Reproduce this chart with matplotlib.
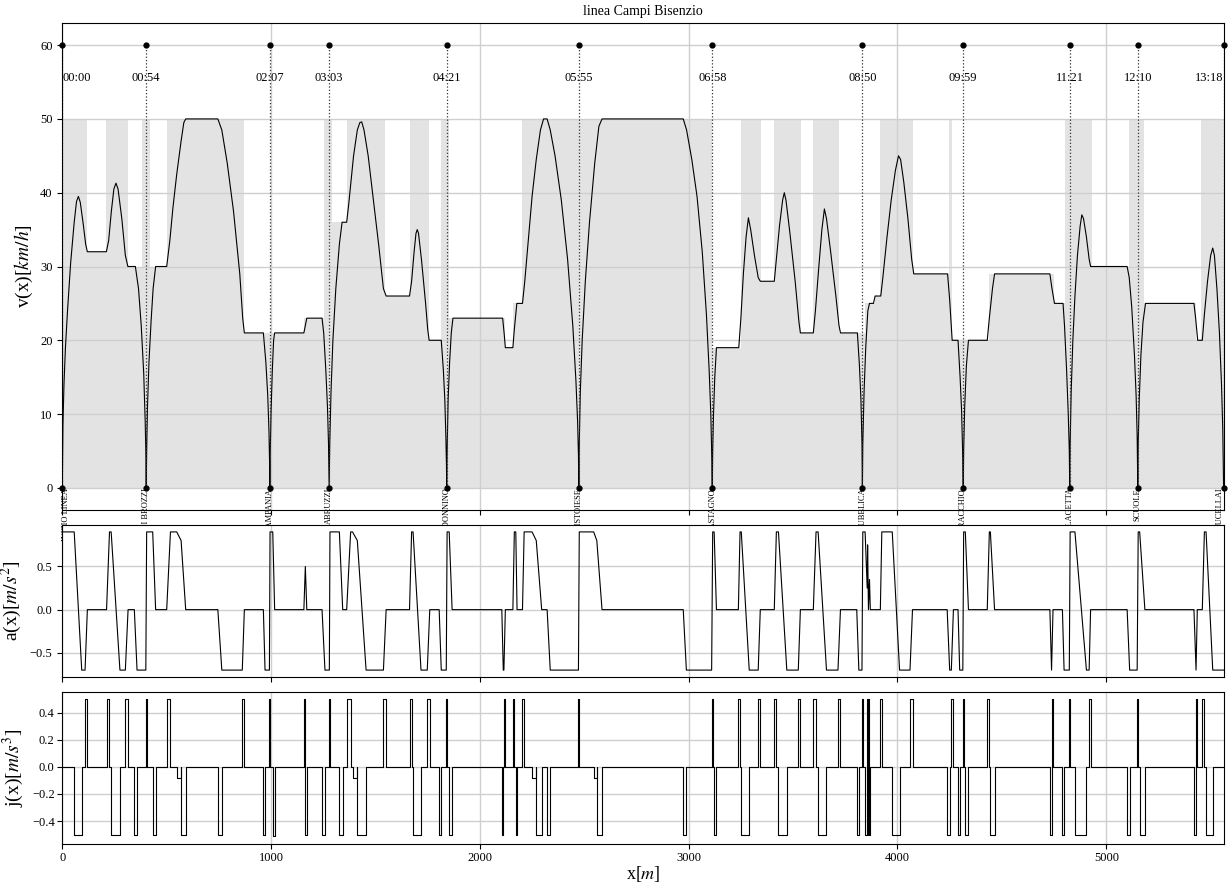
import numpy as np
import matplotlib
matplotlib.use("Agg")
import matplotlib.pyplot as plt

plt.rcParams['font.family'] = ['Liberation Serif', 'DejaVu Serif']
plt.rcParams['mathtext.fontset'] = 'stix'

# stations: position [m], departure time, name
st_x = [0, 402, 994, 1278, 1841, 2474, 3113, 3832, 4315, 4825, 5151, 5562]
st_time = ['00:00', '00:54', '02:07', '03:03', '04:21', '05:55', '06:58',
           '08:50', '09:59', '11:21', '12:10', '13:18']
st_name = ['INIZIO LINEA', 'PIAZZA DI BROZZI', 'CAMPANIA', 'ABRUZZI', 'SAN DONNINO',
           'PISTOIESE', 'CASTAGNO', 'REPUBBLICA', 'TORRACCHIO', 'VIA LAGETTA',
           'SCUOLE', 'RUCELLAI']

# speed limit profile (step, value holds until next breakpoint)
lim_x = [0, 120, 211, 314, 380, 420, 502, 870, 1159, 1254, 1290, 1363, 1546, 1663,
         1757, 1814, 1852, 2118, 2158, 2204, 3113, 3249, 3347, 3410, 3536, 3596,
         3719, 3845, 3890, 3918, 4075, 4248, 4261, 4436, 4752, 4800, 4933, 5111,
         5183, 5430, 5456, 5562]
lim_v = [50, 32, 50, 30, 50, 30, 50, 21, 23, 50, 36, 50, 26, 50,
         20, 50, 23, 19, 25, 50, 19, 50, 28, 50, 21, 50,
         21, 25, 26, 50, 29, 50, 20, 29, 25, 50, 30, 50,
         25, 20, 50, 50]

# speed profile v(x) [km/h]
v_x = [0, 3, 8, 15, 25, 40, 57, 68, 77, 86, 100, 112, 120, 211, 222, 235, 247, 257, 267,
       285, 302, 314, 350, 365, 378, 390, 397, 400, 402,
       404, 408, 415, 425, 435, 447, 500, 515, 530, 548, 569, 582, 591, 745, 764, 790,
       820, 850, 864, 872, 963, 975, 984, 990, 993, 994,
       996, 1000, 1006, 1012, 1017, 1157, 1164, 1171, 1244, 1252, 1262, 1270, 1275, 1278,
       1281, 1287, 1296, 1310, 1327, 1340, 1362, 1372, 1381, 1395, 1413, 1425, 1434, 1445,
       1465, 1490, 1515, 1538, 1551, 1663, 1673, 1685, 1694, 1700, 1706, 1720, 1740, 1750,
       1757, 1815, 1825, 1832, 1837, 1840, 1841,
       1843, 1848, 1855, 1863, 1871, 2109, 2116, 2122, 2158, 2165, 2177, 2204, 2215, 2230,
       2250, 2270, 2290, 2305, 2322, 2337, 2360, 2390, 2420, 2445, 2460, 2468, 2472, 2474,
       2476, 2481, 2490, 2505, 2525, 2550, 2570, 2585, 2974, 2990, 3015, 3040, 3065, 3085,
       3098, 3106, 3110, 3113,
       3115, 3119, 3125, 3133, 3240, 3250, 3262, 3275, 3286, 3297, 3315, 3333, 3343, 3410,
       3420, 3435, 3450, 3458, 3466, 3485, 3510, 3528, 3535, 3597, 3607, 3622, 3638, 3650,
       3660, 3680, 3705, 3720, 3727, 3808, 3818, 3825, 3830, 3832,
       3834, 3840, 3848, 3858, 3866, 3885, 3893, 3920, 3930, 3950, 3970, 3990, 4005, 4015,
       4030, 4050, 4068, 4078, 4240, 4250, 4262, 4290, 4300, 4307, 4312, 4315,
       4317, 4322, 4330, 4340, 4430, 4440, 4455, 4465, 4730, 4740, 4752, 4793, 4800, 4810,
       4818, 4823, 4825,
       4827, 4832, 4840, 4850, 4862, 4875, 4883, 4891, 4905, 4918, 4925, 5100, 5110, 5122,
       5135, 5143, 5148, 5151,
       5153, 5158, 5166, 5176, 5188, 5420, 5428, 5438, 5460, 5470, 5485, 5500, 5510, 5518,
       5530, 5542, 5552, 5558, 5562]
v_v = [0, 8.5, 14, 19, 24, 30.5, 36, 38.8, 39.5, 38.7, 35.8, 33, 32, 32, 33.5, 37.5, 40.5, 41.3, 40.5,
       36.5, 31.5, 30, 30, 27, 22, 15.5, 9, 5, 0,
       5, 11, 17, 22.5, 27, 30, 30, 33.5, 38, 42.5, 47, 49.5, 50, 50, 48.5, 44,
       37.5, 29, 23, 21, 21, 17, 12.5, 7.5, 3, 0,
       5, 10.5, 16, 20, 21, 21, 22, 23, 23, 21, 16, 11, 6, 0,
       6, 13, 20, 27, 33, 36, 36, 38.5, 41, 45, 48.5, 49.5, 49.6, 48.5,
       45, 39, 33, 27, 26, 26, 28, 32, 34.5, 35, 34.5, 31, 25, 21.5,
       20, 20, 16, 12, 7, 3, 0,
       5, 12, 17, 21, 23, 23, 21, 19, 19, 21.5, 25, 25, 28, 33,
       39.5, 44.5, 48.5, 50, 50, 48.5, 45, 39, 31, 22, 14.5, 9, 4.5, 0,
       6, 13, 20, 28, 36, 44, 49, 50, 50, 48.5, 44.5, 39.5, 32, 23.5,
       16, 10, 5, 0,
       5, 10, 15, 19, 19, 23, 29, 34, 36.6, 35, 31.5, 28.5, 28, 28,
       31, 35.5, 39, 40, 39, 34.5, 28, 22.5, 21, 21, 24, 29.5, 35, 37.8,
       36.5, 32, 26, 22, 21, 21, 16.5, 12, 6, 0,
       6, 13, 19, 24, 25, 25, 26, 26, 28.5, 34, 39, 43, 45, 44.5,
       41.5, 36.5, 31, 29, 29, 25.5, 20, 20, 15, 10.5, 5, 0,
       5, 11, 16.5, 20, 20, 23, 27, 29, 29, 27, 25, 25, 22, 16,
       10, 5, 0,
       6, 13, 20, 26, 31.5, 35.5, 37, 36.5, 34, 31, 30, 30, 28.5, 24.5,
       18, 12.5, 7, 0,
       6, 12, 18, 22.5, 25, 25, 23, 20, 20, 23.5, 28, 31.5, 32.5, 31.5,
       27, 21, 14, 8, 0]

# acceleration a(x) [m/s^2]
a_x = [0, 57, 93, 109, 120, 212, 226, 234, 276, 302, 315, 345, 358, 400, 404, 433, 447,
       500, 518, 548, 569, 591, 745, 764, 862, 872, 963, 971, 992, 995, 1008, 1017,
       1157, 1164, 1171, 1244, 1258, 1279, 1282, 1327, 1343, 1362, 1381, 1390, 1413,
       1455, 1538, 1551, 1663, 1673, 1680, 1718, 1748, 1760, 1805, 1815, 1839, 1843,
       1853, 1867, 2105, 2112, 2115, 2122, 2158, 2165, 2172, 2178, 2204, 2212, 2250,
       2270, 2296, 2322, 2337, 2472, 2476, 2545, 2560, 2585, 2974, 2989, 3110, 3115,
       3122, 3133, 3238, 3246, 3252, 3290, 3333, 3343, 3410, 3420, 3430, 3470, 3525,
       3535, 3597, 3610, 3620, 3660, 3715, 3727, 3805, 3815, 3830, 3834, 3845, 3855,
       3857, 3861, 3866, 3870, 3918, 3925, 3975, 4010, 4060, 4072, 4238, 4250, 4258,
       4268, 4290, 4298, 4313, 4317, 4325, 4340, 4430, 4440, 4445, 4465, 4730, 4738,
       4745, 4790, 4798, 4823, 4827, 4850, 4905, 4918, 4925, 5100, 5112, 5148, 5153,
       5160, 5185, 5420, 5430, 5436, 5460, 5470, 5478, 5510, 5562]
a_v = [0.9, 0.9, -0.7, -0.7, 0, 0, 0.9, 0.9, -0.7, -0.7, 0, 0, -0.7, -0.7, 0.9, 0.9, 0,
       0, 0.9, 0.9, 0.8, 0, 0, -0.7, -0.7, 0, 0, -0.7, -0.7, 0.9, 0.9, 0,
       0, 0.5, 0, 0, -0.7, -0.7, 0.9, 0.9, 0, 0, 0.9, 0.9, 0.8,
       -0.7, -0.7, 0, 0, 0.9, 0.9, -0.7, -0.7, 0, 0, -0.7, -0.7, 0.9,
       0.9, 0, 0, -0.7, -0.7, 0, 0, 0.9, 0.9, 0, 0, 0.9, 0.9,
       0.8, 0, 0, -0.7, -0.7, 0.9, 0.9, 0.8, 0, 0, -0.7, -0.7, 0.9,
       0.9, 0, 0, 0.9, 0.9, -0.7, -0.7, 0, 0, 0.9, 0.9, -0.7, -0.7,
       0, 0, 0.9, 0.9, -0.7, -0.7, 0, 0, -0.7, -0.7, 0.9, 0.9, 0.25,
       0.75, 0, 0.35, 0, 0, 0.9, 0.9, -0.7, -0.7, 0, 0, -0.7, -0.7,
       0, 0, -0.7, -0.7, 0.9, 0.9, 0, 0, 0.9, 0.9, 0, 0, -0.7,
       0, 0, -0.7, -0.7, 0.9, 0.9, -0.7, -0.7, 0, 0, -0.7, -0.7, 0.9,
       0.9, 0, 0, -0.7, 0, 0, 0.9, 0.9, -0.7, -0.7]

# jerk pulses: start [m], end [m], value [m/s^3]
j_start = [57, 109, 212, 234, 302, 345, 400, 433, 500, 548, 569, 745, 862, 963, 992, 1008,
           1157, 1164, 1244, 1279, 1327, 1362, 1390, 1413, 1538, 1663, 1680, 1748, 1805,
           1839, 1853, 2105, 2115, 2158, 2172, 2204, 2250, 2270, 2322, 2472, 2545, 2560,
           2974, 3110, 3122, 3238, 3252, 3333, 3410, 3430, 3525, 3597, 3620, 3715, 3805,
           3830, 3845, 3855, 3857, 3861, 3866, 3918, 3975, 4060, 4238, 4258, 4290, 4313,
           4325, 4430, 4445, 4730, 4738, 4790, 4823, 4850, 4918, 5100, 5148, 5160, 5420,
           5430, 5460, 5478]
j_end = [93, 120, 226, 276, 315, 358, 404, 447, 518, 569, 591, 764, 872, 971, 995, 1017,
         1164, 1171, 1258, 1282, 1343, 1381, 1413, 1455, 1551, 1673, 1718, 1760, 1815,
         1843, 1867, 2112, 2122, 2165, 2178, 2212, 2270, 2296, 2337, 2476, 2560, 2585,
         2989, 3115, 3133, 3246, 3290, 3343, 3420, 3470, 3535, 3610, 3660, 3727, 3815,
         3834, 3855, 3857, 3861, 3866, 3870, 3925, 4010, 4072, 4250, 4268, 4298, 4317,
         4340, 4440, 4465, 4738, 4745, 4798, 4827, 4905, 4925, 5112, 5153, 5185, 5430,
         5436, 5470, 5510]
j_val = [-0.5, 0.5, 0.5, -0.5, 0.5, -0.5, 0.5, -0.5, 0.5, -0.08, -0.5, -0.5, 0.5, -0.5, 0.5, -0.51,
         0.5, -0.5, -0.5, 0.5, -0.5, 0.5, -0.08, -0.5, 0.5, 0.5, -0.5, 0.5, -0.5,
         0.5, -0.5, -0.5, 0.5, 0.5, -0.5, 0.5, -0.08, -0.5, -0.5, 0.5, -0.08, -0.5,
         -0.5, 0.5, -0.5, 0.5, -0.5, 0.5, 0.5, -0.5, 0.5, 0.5, -0.5, 0.5, -0.5,
         0.5, -0.5, 0.5, -0.5, 0.5, -0.5, 0.5, -0.5, 0.5, -0.5, 0.5, -0.5, 0.5,
         -0.5, 0.5, -0.5, -0.5, 0.5, -0.5, 0.5, -0.5, 0.5, -0.5, 0.5, -0.5, -0.5,
         0.5, 0.5, -0.5]

X_MAX = 5562

fig = plt.figure(figsize=(12.3, 8.82), dpi=100)
W, H = 1230.0, 882.0
left, right = 62.3 / W, 1223.6 / W
ax_v = fig.add_axes([left, 1 - 510 / H, right - left, (510 - 23) / H])
ax_a = fig.add_axes([left, 1 - 677 / H, right - left, (677 - 525) / H], sharex=ax_v)
ax_j = fig.add_axes([left, 1 - 844.3 / H, right - left, (844.3 - 692.3) / H], sharex=ax_v)

grid_kw = dict(color='#cfcfcf', linewidth=1.0)

# velocity panel
ax_v.fill_between(lim_x, 0, lim_v, step='post', color='#e3e3e3', linewidth=0)
ax_v.plot(v_x, v_v, color='k', linewidth=0.8)
ax_v.vlines(st_x, 0, 60, colors='#333333', linestyles=':', linewidth=0.9)
ax_v.plot(st_x, [0] * len(st_x), 'o', color='k', markersize=3.5, clip_on=False)
ax_v.plot(st_x, [60] * len(st_x), 'o', color='k', markersize=3.5, clip_on=False)
last = len(st_x) - 1
for i, (x, t, n) in enumerate(zip(st_x, st_time, st_name)):
    ha = 'left' if i == 0 else ('right' if i == last else 'center')
    ax_v.text(x, 55.5, t, ha=ha, va='center', fontsize=9)
    ax_v.text(x, 0, n, rotation=90, ha=ha, va='top', fontsize=6)
ax_v.set_ylim(-3, 63)
ax_v.set_xlim(0, X_MAX)
ax_v.set_yticks([0, 10, 20, 30, 40, 50, 60])
ax_v.grid(True, **grid_kw)
ax_v.set_ylabel('v(x)[$km/h$]', fontsize=14)
ax_v.set_title('linea Campi Bisenzio', fontsize=10)
ax_v.tick_params(labelbottom=False, labelsize=9)

# acceleration panel
ax_a.plot(a_x, a_v, color='k', linewidth=0.8)
ax_a.set_ylim(-0.78, 0.98)
ax_a.set_yticks([-0.5, 0.0, 0.5])
ax_a.grid(True, **grid_kw)
ax_a.set_ylabel('a(x)[$m/s^2$]', fontsize=14)
ax_a.tick_params(labelbottom=False, labelsize=9)

# jerk panel
jx, jy = [0], [0]
for s, e, v in zip(j_start, j_end, j_val):
    jx += [s, s, e, e]
    jy += [0, v, v, 0]
jx.append(X_MAX)
jy.append(0)
ax_j.plot(jx, jy, color='k', linewidth=0.8)
ax_j.set_ylim(-0.571, 0.55)
ax_j.set_yticks([-0.4, -0.2, 0.0, 0.2, 0.4])
ax_j.grid(True, **grid_kw)
ax_j.set_ylabel('j(x)[$m/s^3$]', fontsize=14)
ax_j.set_xlabel('x[$m$]', fontsize=13, labelpad=0)
ax_j.set_xticks([0, 1000, 2000, 3000, 4000, 5000])
ax_j.tick_params(labelsize=9, pad=2)

fig.savefig('out.png', dpi=100)
